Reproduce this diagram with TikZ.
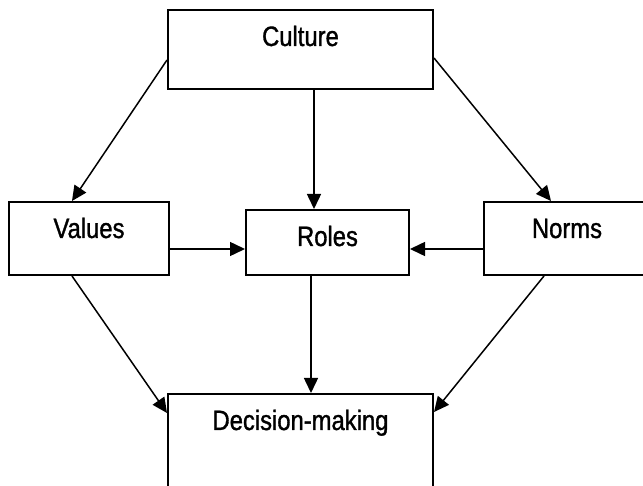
\documentclass[tikz,border=0pt]{standalone}
\usepackage{fontspec}
\setmainfont{Liberation Sans}[FakeStretch=0.85,FakeBold=1.2]
\usetikzlibrary{arrows.meta}
\begin{document}
\begin{tikzpicture}[x=1pt,y=-1pt,
  box/.style={draw, line width=2pt, rectangle, inner sep=0pt, anchor=north,
    font=\fontsize{28}{32}\selectfont, text height=36pt},
  arr/.style={line width=1.5pt, -{Triangle[length=15pt,width=14pt]}}]
  \useasboundingbox (0,0) rectangle (643,486);
  \clip (0,0) rectangle (643,486);
  % boxes: centre x, top edge
  \node[box, minimum width=265pt, text depth=43pt] (culture) at (300.5,9) {Culture};
  \node[box, minimum width=160pt, text depth=37pt] (values) at (89,201) {Values};
  \node[box, minimum width=163pt, text depth=29pt] (roles) at (327.5,209) {Roles};
  \node[box, minimum width=166pt, text depth=37pt] (norms) at (567,201) {Norms};
  \node[box, minimum width=265pt, text depth=80pt] (decision) at (300.5,393) {Decision-making};
  % influences
  \draw[arr] ([yshift=-51pt]culture.north west) -- ([xshift=64pt]values.north west);
  \draw[arr] ([xshift=13.5pt]culture.south) -- ([xshift=-13.5pt]roles.north);
  \draw[arr] ([yshift=-49pt]culture.north east) -- ([xshift=68pt]norms.north west);
  \draw[arr] ([yshift=-48pt]values.north east) -- ([yshift=-40pt]roles.north west);
  \draw[arr] ([yshift=-48pt]norms.north west) -- ([yshift=-40pt]roles.north east);
  \draw[arr] ([xshift=64pt]values.south west) -- ([yshift=-20pt]decision.north west);
  \draw[arr] ([xshift=-16.5pt]roles.south) -- ([xshift=10.5pt]decision.north);
  \draw[arr] ([xshift=61pt]norms.south west) -- ([yshift=-19pt]decision.north east);
\end{tikzpicture}
\end{document}
